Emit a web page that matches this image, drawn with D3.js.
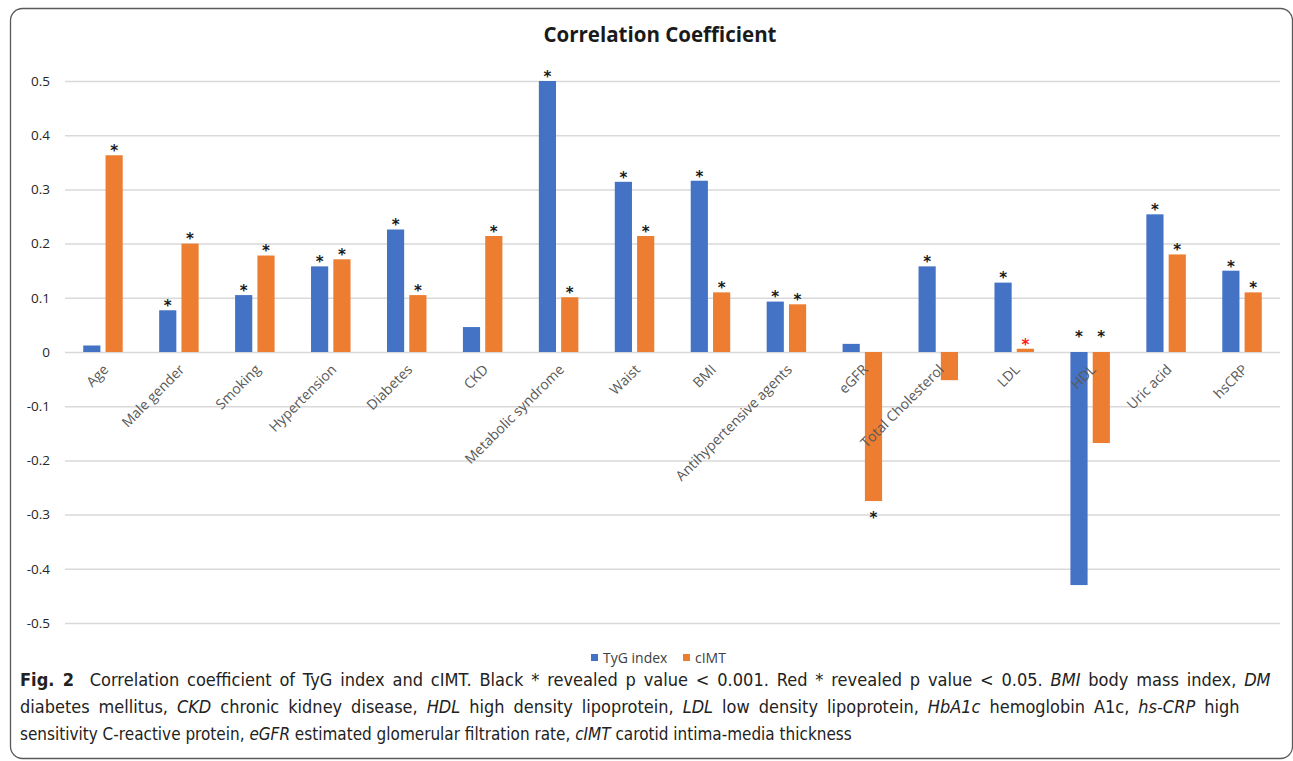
<!DOCTYPE html>
<html>
<head>
<meta charset="utf-8">
<script src="https://cdn.jsdelivr.net/npm/d3@7"></script>
<style>
	html, body { margin: 0; padding: 0; background: #fff; }
	svg { display: block; }
</style>
</head>
<body>
<script>
// data
var categories = ["Age", "Male gender", "Smoking", "Hypertension", "Diabetes", "CKD",
	"Metabolic syndrome", "Waist", "BMI", "Antihypertensive agents", "eGFR",
	"Total Cholesterol", "LDL", "HDL", "Uric acid", "hsCRP"];
var seriesNames = ["TyG index", "cIMT"];
var tygValues = [0.012, 0.077, 0.105, 0.158, 0.226, 0.046, 0.500, 0.314, 0.316, 0.093, 0.015, 0.158, 0.128, -0.430, 0.254, 0.150];
var cimtValues = [0.363, 0.200, 0.178, 0.171, 0.105, 0.214, 0.101, 0.214, 0.110, 0.088, -0.275, -0.052, 0.006, -0.168, 0.180, 0.110];
// significance marks: "b" black * (p < 0.001), "r" red * (p < 0.05), "" none
var tygSig = ["", "b", "b", "b", "b", "", "b", "b", "b", "b", "", "b", "b", "b", "b", "b"];
var cimtSig = ["b", "b", "b", "b", "b", "b", "b", "b", "b", "b", "b", "", "r", "b", "b", "b"];
// categories whose marks sit just above the zero line
var sigAtBase = ["HDL"];
var yTickValues = [-0.5, -0.4, -0.3, -0.2, -0.1, 0, 0.1, 0.2, 0.3, 0.4, 0.5];
var yTickLabels = ["-0.5", "-0.4", "-0.3", "-0.2", "-0.1", "0", "0.1", "0.2", "0.3", "0.4", "0.5"];

var W = 1293, H = 761;
var colors = { "TyG index": "#4472C4", "cIMT": "#ED7D31" };
var plot = { left: 65, right: 1280, top: 81, bottom: 623 };

var svg = d3.select("body").append("svg")
	.attr("width", W)
	.attr("height", H);

// rounded frame round the figure
svg.append("rect")
	.attr("x", 10.5).attr("y", 8.5)
	.attr("width", 1282).attr("height", 750)
	.attr("rx", 12).attr("ry", 12)
	.style("fill", "none")
	.style("stroke", "#5a5a5a")
	.style("stroke-width", 1.3);

// title
svg.append("text")
	.attr("x", 660).attr("y", 42)
	.attr("text-anchor", "middle")
	.style("font-family", "'Open Sans', sans-serif")
	.style("font-weight", "bold")
	.style("font-size", "20.5px")
	.style("fill", "#1a1a1a")
	.text("Correlation Coefficient");

// scales
var x0 = d3.scaleBand()
	.domain(categories)
	.range([plot.left, plot.right])
	.paddingInner(0.48)
	.paddingOuter(0.24);

var x1 = d3.scaleBand()
	.domain(seriesNames)
	.range([0, x0.bandwidth()])
	.paddingInner(0.23);

var y = d3.scaleLinear()
	.domain([-0.5, 0.5])
	.range([plot.bottom, plot.top]);

// grid + y labels
var yAxis = d3.axisLeft(y)
	.tickValues(yTickValues)
	.tickFormat(function(d, i) { return yTickLabels[i]; })
	.tickSize(-(plot.right - plot.left))
	.tickPadding(15);

var gy = svg.append("g")
	.attr("transform", "translate(" + plot.left + ",0)")
	.call(yAxis);
gy.select(".domain").remove();
gy.selectAll(".tick line")
	.style("stroke", "#d9d9d9")
	.style("stroke-width", 1.5);
gy.selectAll(".tick text")
	.style("font-family", "'Open Sans', sans-serif")
	.style("font-size", "13.5px")
	.style("fill", "#262626");

// bars
var rows = categories.map(function(c, i) {
	return {
		category: c,
		items: [
			{ series: "TyG index", value: tygValues[i], sig: tygSig[i] },
			{ series: "cIMT", value: cimtValues[i], sig: cimtSig[i] }
		]
	};
});

var groups = svg.append("g").selectAll("g")
	.data(rows)
	.join("g")
	.attr("transform", function(d) { return "translate(" + x0(d.category) + ",0)"; });

groups.selectAll("rect")
	.data(function(d) { return d.items; })
	.join("rect")
	.attr("x", function(d) { return x1(d.series); })
	.attr("y", function(d) { return y(Math.max(0, d.value)); })
	.attr("width", x1.bandwidth())
	.attr("height", function(d) { return Math.abs(y(d.value) - y(0)); })
	.style("fill", function(d) { return colors[d.series]; });

// significance asterisks
groups.each(function(row) {
	var atBase = sigAtBase.indexOf(row.category) >= 0;
	d3.select(this).selectAll("text.sig")
		.data(row.items.filter(function(d) { return d.sig; }))
		.join("text")
		.attr("class", "sig")
		.attr("x", function(d) { return x1(d.series) + x1.bandwidth() / 2; })
		.attr("y", function(d) {
			if (atBase) return y(0) - 21;
			return d.value >= 0 ? y(d.value) - 10 : y(d.value) + 11;
		})
		.attr("dy", "0.72em")
		.attr("text-anchor", "middle")
		.style("font-family", "'DejaVu Sans', sans-serif")
		.style("font-weight", "bold")
		.style("font-size", "15px")
		.style("fill", function(d) { return d.sig === "r" ? "#ff1a1a" : "#1a1a1a"; })
		.text("*");
});

// category labels, rotated, drawn over the bars
svg.append("g").selectAll("text")
	.data(categories)
	.join("text")
	.attr("transform", function(d) {
		return "translate(" + (x0(d) + x0.bandwidth() / 2 + 3) + "," + (y(0) + 15) + ") rotate(-45)";
	})
	.attr("text-anchor", "end")
	.attr("dy", "0.35em")
	.style("font-family", "'Open Sans', sans-serif")
	.style("font-size", "14px")
	.style("fill", "#595959")
	.text(function(d) { return d; });

// legend
var legend = svg.append("g")
	.attr("transform", "translate(591,658)");
var legendItems = legend.selectAll("g")
	.data(seriesNames)
	.join("g")
	.attr("transform", function(d, i) { return "translate(" + (i * 92) + ",0)"; });
legendItems.append("rect")
	.attr("x", 0).attr("y", -4)
	.attr("width", 7).attr("height", 7)
	.style("fill", function(d) { return colors[d]; });
legendItems.append("text")
	.attr("x", 12).attr("y", 0)
	.attr("dy", "0.35em")
	.style("font-family", "'Open Sans', sans-serif")
	.style("font-size", "14px")
	.style("fill", "#404040")
	.text(function(d) { return d; });

// caption
var captionLines = [
	[["b", "Fig. 2"], ["n", "  Correlation coefficient of TyG index and cIMT. Black * revealed p value < 0.001. Red * revealed p value < 0.05. "], ["i", "BMI"], ["n", " body mass index, "], ["i", "DM"]],
	[["n", "diabetes mellitus, "], ["i", "CKD"], ["n", " chronic kidney disease, "], ["i", "HDL"], ["n", " high density lipoprotein, "], ["i", "LDL"], ["n", " low density lipoprotein, "], ["i", "HbA1c"], ["n", " hemoglobin A1c, "], ["i", "hs-CRP"], ["n", " high"]],
	[["n", "sensitivity C-reactive protein, "], ["i", "eGFR"], ["n", " estimated glomerular filtration rate, "], ["i", "cIMT"], ["n", " carotid intima-media thickness"]]
];
// widths of the lines in the figure; the first two are justified
var captionWidths = [1252, 1220, 832];
var captionJustified = [true, true, false];

// condensed look: sideways squeeze set by the last, unjustified line;
// justified lines share the gap between a little wider glyphs and word spacing
var caption = svg.append("g");
var lines = captionLines.map(function(parts, li) {
	var t = caption.append("text")
		.attr("x", 0)
		.attr("y", 0)
		.style("font-family", "'DejaVu Sans', sans-serif")
		.style("font-size", "18px")
		.style("fill", "#222")
		.style("white-space", "pre");
	parts.forEach(function(p) {
		t.append("tspan")
			.style("font-weight", p[0] === "b" ? "bold" : "normal")
			.style("font-style", p[0] === "i" ? "italic" : "normal")
			.text(p[1]);
	});
	return t;
});
var sx = captionWidths[2] / lines[2].node().getComputedTextLength();
lines.forEach(function(t, li) {
	var sxLine = sx;
	if (captionJustified[li]) {
		var natural = t.node().getComputedTextLength();
		var ratio = captionWidths[li] / (natural * sx);
		sxLine = sx * Math.sqrt(ratio);
		var spaces = t.text().split(" ").length - 1;
		var extra = (captionWidths[li] / sxLine - natural) / spaces;
		t.style("word-spacing", extra + "px");
	}
	t.attr("transform", "translate(20," + (686 + li * 27) + ") scale(" + sxLine + ",1)");
});
</script>
</body>
</html>
